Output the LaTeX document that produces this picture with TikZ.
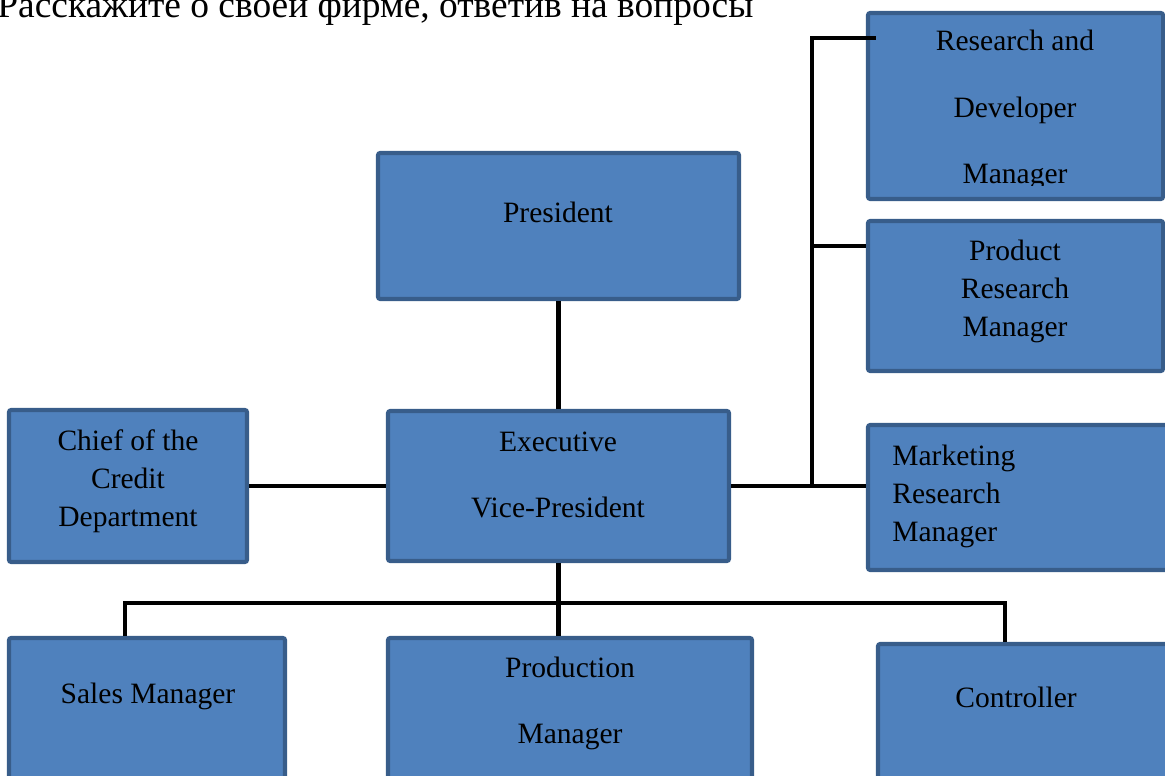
\documentclass[tikz,border=0pt]{standalone}
\usepackage{fontspec}
\setmainfont{Liberation Serif}
\usepackage{xcolor}
\usetikzlibrary{positioning}

\definecolor{boxfill}{RGB}{79,129,189}
\definecolor{boxedge}{RGB}{56,93,138}
\newcommand{\boxfont}{\fontsize{16.8}{21.6}\selectfont}
\newcommand{\widefont}{\fontsize{16.8}{37.6}\selectfont}

\tikzset{
  orgbox/.style 2 args={draw=boxedge, fill=boxfill, line width=2.3pt, rounded corners=1.2pt,
    minimum width=#1*0.02cm, minimum height=#2*0.02cm, inner sep=0pt},
  boxtext/.style={font=\boxfont, align=center, inner sep=0pt},
  widetext/.style={font=\widefont, align=center, inner sep=0pt},
  link/.style={black, line width=2.6pt}
}

\begin{document}
\begin{tikzpicture}[x=0.02cm, y=-0.02cm]
\useasboundingbox (0,0) rectangle (1165,776);
\clip (0,0) rectangle (1165,776);

\node[anchor=base west, inner sep=0pt, font=\fontsize{21.3}{25}\selectfont] (title) at (-3,18) {Расскажите о своей фирме, ответив на вопросы};

% boxes
\node[orgbox={295}{186}] (rd) at (1015.5,106) {};
\node[orgbox={295}{150}] (prr) at (1015.5,296) {};
\node[orgbox={361}{146}] (pres) at (558.5,226) {};
\node[orgbox={238}{152}] (chief) at (128,486) {};
\node[orgbox={341}{150}] (evp) at (558.5,486) {};
\node[orgbox={302}{145}] (mkt) at (1019,497.5) {};
\node[orgbox={276}{192}] (sales) at (147,734) {};
\node[orgbox={364}{192}] (pm) at (570,734) {};
\node[orgbox={292}{186}] (ctrl) at (1024,737) {};

% texts
\begin{scope}
\clip (860,0) rectangle (1165,186);
\node[widetext] (rd-t) at (1015,110) {Research and\\Developer\\Manager};
\end{scope}
\node[boxtext] (prr-t) at (1015,291) {Product\\Research\\Manager};
\node[boxtext] (pres-t) at (558,212) {President};
\node[boxtext] (chief-t) at (128,481) {Chief of the\\Credit\\Department};
\node[widetext] (evp-t) at (558,475) {Executive\\Vice-President};
\node[boxtext, align=left, anchor=west] (mkt-t) at (892,496) {Marketing\\Research\\Manager};
\node[boxtext] (sales-t) at (148,696) {Sales Manager};
\node[widetext] (pm-t) at (570,703) {Production\\Manager};
\node[boxtext] (ctrl-t) at (1016,697) {Controller};

% links
\coordinate (rtop) at (812,38);
\coordinate (rmid) at (812,246);
\coordinate (busL) at (125,603);
\coordinate (busR) at (1005,603);

\draw[link] (pres.south) -- (evp.north);
\draw[link] (chief.east) -- (evp.west);
\draw[link] (evp.east) -- (evp.east -| mkt.west);
\draw[link] ([xshift=0.2cm]rd.west |- rtop) -- (rtop) -- (rtop |- evp.east);
\draw[link] (rmid) -- (rmid -| prr.west);
\draw[link] (evp.south) -- (evp.south |- pm.north);
\draw[link] (busL |- sales.north) -- (busL) -- (busR) -- (busR |- ctrl.north);

\end{tikzpicture}
\end{document}
